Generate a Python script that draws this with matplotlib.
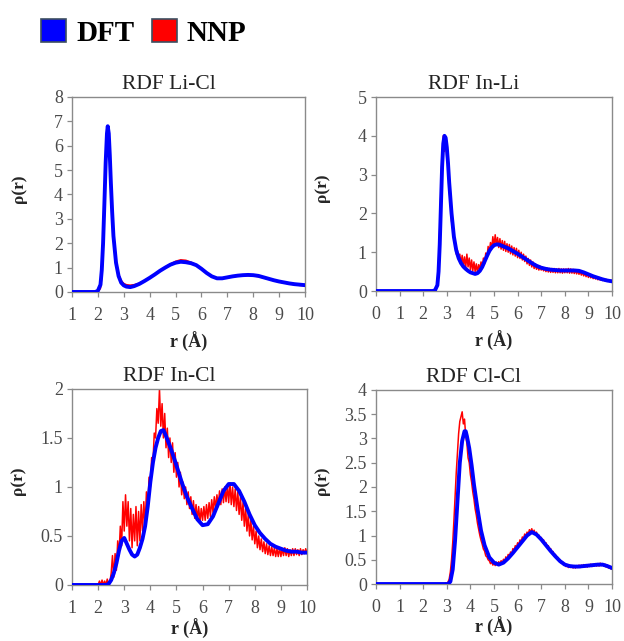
import matplotlib
matplotlib.use("Agg")
import matplotlib.pyplot as plt
import numpy as np
from matplotlib.patches import Patch
from matplotlib.ticker import FormatStrFormatter

plt.rcParams["font.family"] = ["Liberation Serif", "DejaVu Serif"]

# ---- RDF Li-Cl ----
r_licl = [1.0, 1.9, 2.0, 2.1, 2.15, 2.2, 2.25, 2.3, 2.35, 2.38, 2.42, 2.46, 2.5, 2.55, 2.6,
          2.7, 2.8, 2.9, 3.0, 3.1, 3.25, 3.4, 3.6, 3.8, 4.0, 4.2, 4.4, 4.6, 4.8, 5.0,
          5.2, 5.4, 5.6, 5.8, 6.0, 6.2, 6.4, 6.6, 6.8, 7.0, 7.2, 7.4, 7.6, 7.8, 8.0,
          8.2, 8.4, 8.6, 8.8, 9.0, 9.2, 9.4, 9.6, 9.8, 10.0]
g_licl_dft = [0, 0, 0.05, 0.3, 0.9, 2.0, 3.6, 5.3, 6.5, 6.8, 6.5, 5.6, 4.5, 3.3, 2.3,
              1.2, 0.65, 0.38, 0.27, 0.22, 0.2, 0.24, 0.33, 0.45, 0.58, 0.72, 0.87, 1.0, 1.12, 1.2,
              1.24, 1.22, 1.18, 1.1, 0.95, 0.78, 0.64, 0.56, 0.56, 0.6, 0.64, 0.67, 0.69, 0.7, 0.69,
              0.66, 0.6, 0.54, 0.48, 0.43, 0.39, 0.35, 0.32, 0.3, 0.28]
g_licl_nnp = [0, 0, 0.0, 0.15, 0.6, 1.6, 3.2, 5.0, 6.3, 6.6, 6.4, 5.6, 4.6, 3.4, 2.4,
              1.3, 0.74, 0.47, 0.35, 0.3, 0.28, 0.3, 0.36, 0.47, 0.6, 0.73, 0.88, 1.02, 1.15, 1.26,
              1.32, 1.3, 1.22, 1.12, 0.97, 0.79, 0.63, 0.55, 0.56, 0.59, 0.62, 0.65, 0.66, 0.67, 0.66,
              0.63, 0.58, 0.52, 0.46, 0.41, 0.37, 0.33, 0.3, 0.27, 0.26]

# ---- RDF In-Li ----
r_inli_dft = [0, 2.4, 2.5, 2.6, 2.65, 2.7, 2.75, 2.8, 2.85, 2.9, 2.95, 3.0, 3.05, 3.1, 3.2,
              3.3, 3.4, 3.5, 3.6, 3.7, 3.8, 3.9, 4.0, 4.1, 4.2, 4.3, 4.4, 4.5, 4.6, 4.7,
              4.8, 4.9, 5.0, 5.1, 5.2, 5.4, 5.6, 5.8, 6.0, 6.2, 6.4, 6.6, 6.8, 7.0, 7.2,
              7.4, 7.6, 7.8, 8.0, 8.2, 8.4, 8.6, 8.8, 9.0, 9.2, 9.4, 9.6, 9.8, 10.0]
g_inli_dft = [0, 0, 0.02, 0.15, 0.5, 1.2, 2.2, 3.2, 3.8, 4.0, 3.95, 3.7, 3.3, 2.8, 2.0,
              1.4, 1.05, 0.85, 0.72, 0.63, 0.57, 0.52, 0.48, 0.46, 0.44, 0.46, 0.52, 0.62, 0.76, 0.9,
              1.03, 1.12, 1.18, 1.2, 1.2, 1.15, 1.1, 1.03, 0.96, 0.88, 0.8, 0.72, 0.65, 0.6, 0.57,
              0.55, 0.54, 0.53, 0.53, 0.53, 0.53, 0.52, 0.48, 0.43, 0.38, 0.34, 0.3, 0.27, 0.25]
# NNP sampled every 0.05 A from 2.5 to 10
g_inli_nnp = [0, 0.05, 0.25, 0.7, 1.6, 2.6, 3.5, 4.0, 3.6, 3.95, 3.4, 3.3, 2.6, 2.3, 1.8,
              1.6, 1.3, 1.25, 0.95, 1.05, 0.8, 0.95, 0.7, 0.92, 0.65, 0.88, 0.6, 0.95, 0.62, 0.85,
              0.55, 0.8, 0.52, 0.75, 0.5, 0.7, 0.48, 0.68, 0.55, 0.75, 0.62,
              0.85, 0.7, 0.98, 0.85, 1.15, 0.98, 1.25, 1.08, 1.4, 1.15, 1.45, 1.18, 1.38, 1.12, 1.35,
              1.08, 1.3, 1.05, 1.28, 1.02,
              1.22, 1.0, 1.2, 0.96, 1.16, 0.93, 1.12, 0.9, 1.1, 0.86, 1.05, 0.84, 1.0, 0.8, 0.95,
              0.76, 0.9, 0.7, 0.84, 0.66, 0.8, 0.62, 0.75, 0.58, 0.7, 0.56, 0.66, 0.54, 0.64, 0.54,
              0.62, 0.52, 0.6, 0.5, 0.59, 0.49, 0.58, 0.48, 0.58, 0.48, 0.58, 0.47, 0.57, 0.47, 0.58,
              0.47, 0.57, 0.46, 0.57, 0.47, 0.57, 0.47, 0.58, 0.46, 0.57, 0.46, 0.56, 0.45, 0.55, 0.44,
              0.53, 0.43, 0.51, 0.41, 0.49, 0.39, 0.47, 0.37, 0.45, 0.35, 0.42, 0.34, 0.4, 0.32, 0.38,
              0.31, 0.36, 0.29, 0.35, 0.28, 0.33, 0.27, 0.32, 0.26, 0.3, 0.25, 0.29, 0.24, 0.28, 0.25]

# ---- RDF In-Cl ----
r_incl_dft = [1.0, 2.3, 2.4, 2.5, 2.6, 2.7, 2.8, 2.9, 3.0, 3.1, 3.2, 3.3, 3.4, 3.5, 3.6,
              3.7, 3.8, 3.9, 4.0, 4.1, 4.2, 4.3, 4.4, 4.5, 4.6, 4.7, 4.8, 5.0, 5.2, 5.4,
              5.6, 5.8, 6.0, 6.2, 6.4, 6.6, 6.8, 7.0, 7.2, 7.4, 7.6, 7.8, 8.0, 8.2, 8.4,
              8.6, 8.8, 9.0, 9.2, 9.4, 9.6, 9.8, 10.0]
g_incl_dft = [0, 0, 0.01, 0.05, 0.12, 0.22, 0.35, 0.45, 0.48, 0.42, 0.36, 0.31, 0.29, 0.31, 0.38,
              0.47, 0.6, 0.8, 1.05, 1.25, 1.4, 1.5, 1.57, 1.58, 1.52, 1.45, 1.38, 1.22, 1.05, 0.9,
              0.78, 0.67, 0.61, 0.62, 0.7, 0.83, 0.96, 1.03, 1.03, 0.96, 0.85, 0.72, 0.61, 0.53, 0.47,
              0.42, 0.39, 0.37, 0.35, 0.34, 0.34, 0.33, 0.33]
# NNP sampled every 0.05 A from 2.0 to 10
g_incl_nnp = [0, 0.04, 0.0, 0.05, 0.0, 0.04, 0.0, 0.06, 0.0, 0.03,
              0.12, 0.3, 0.08, 0.32, 0.15, 0.45, 0.3, 0.6, 0.4, 0.85,
              0.55, 0.92, 0.6, 0.85, 0.45, 0.78, 0.38, 0.72, 0.45, 0.8,
              0.4, 0.75, 0.45, 0.82, 0.55, 0.85, 0.6, 0.95, 0.75, 1.1,
              1.0, 1.3, 1.25, 1.55, 1.5, 1.8, 1.65, 2.0, 1.62, 1.85,
              1.5, 1.75, 1.4, 1.6, 1.3, 1.5, 1.25, 1.45, 1.15, 1.35,
              1.1, 1.25, 1.0, 1.15, 0.92, 1.05, 0.88, 1.0, 0.82, 0.95,
              0.78, 0.9, 0.72, 0.86, 0.68, 0.82, 0.66, 0.8, 0.64, 0.78,
              0.66, 0.8, 0.66, 0.82, 0.68, 0.84, 0.7, 0.87, 0.74, 0.9,
              0.78, 0.92, 0.8, 0.96, 0.82, 0.98, 0.84, 1.0, 0.85, 1.02,
              0.84, 1.04, 0.82, 1.0, 0.8, 0.98, 0.76, 0.95, 0.72, 0.9,
              0.66, 0.84, 0.6, 0.78, 0.55, 0.72, 0.5, 0.66, 0.46, 0.6,
              0.42, 0.55, 0.38, 0.5, 0.36, 0.47, 0.34, 0.44, 0.32, 0.42,
              0.31, 0.4, 0.3, 0.39, 0.3, 0.38, 0.29, 0.37, 0.29, 0.38,
              0.29, 0.37, 0.3, 0.38, 0.3, 0.37, 0.29, 0.36, 0.3, 0.37,
              0.3, 0.37, 0.31, 0.36, 0.3, 0.37, 0.31, 0.36, 0.32, 0.37,
              0.33]

# ---- RDF Cl-Cl ----
r_clcl_dft = [0, 3.05, 3.15, 3.25, 3.35, 3.45, 3.55, 3.65, 3.75, 3.8, 3.85, 3.95, 4.05, 4.15, 4.3,
              4.45, 4.6, 4.8, 5.0, 5.2, 5.4, 5.6, 5.8, 6.0, 6.2, 6.4, 6.6, 6.8, 7.0, 7.2,
              7.4, 7.6, 7.8, 8.0, 8.2, 8.4, 8.6, 8.8, 9.0, 9.2, 9.4, 9.6, 9.8, 10.0]
g_clcl_dft = [0, 0, 0.05, 0.3, 0.9, 1.7, 2.5, 2.95, 3.15, 3.15, 3.05, 2.8, 2.45, 2.05, 1.55,
              1.1, 0.8, 0.55, 0.44, 0.4, 0.44, 0.53, 0.64, 0.76, 0.88, 1.0, 1.07, 1.02, 0.92, 0.8,
              0.68, 0.57, 0.47, 0.4, 0.37, 0.36, 0.36, 0.37, 0.38, 0.39, 0.4, 0.4, 0.37, 0.33]
# NNP sampled every 0.05 A from 2.9 to 10
g_clcl_nnp = [0, 0.02, 0.0, 0.04, 0.1, 0.25, 0.5, 0.85, 1.3, 1.8,
              2.3, 2.7, 3.1, 3.35, 3.45, 3.55, 3.3, 3.4, 3.05, 2.9,
              2.6, 2.5, 2.25, 2.1, 1.9, 1.75, 1.55, 1.42, 1.25, 1.12,
              1.0, 0.9, 0.82, 0.72, 0.68, 0.58, 0.56, 0.5, 0.48, 0.42,
              0.46, 0.39, 0.44, 0.38, 0.45, 0.39, 0.46, 0.41, 0.48, 0.43,
              0.51, 0.46, 0.56, 0.51, 0.61, 0.57, 0.66, 0.62, 0.73, 0.69,
              0.79, 0.75, 0.85, 0.81, 0.91, 0.87, 0.97, 0.93, 1.03, 0.99,
              1.07, 1.03, 1.12, 1.07, 1.14, 1.05, 1.11, 1.02, 1.07, 0.97,
              1.01, 0.92, 0.96, 0.87, 0.91, 0.81, 0.85, 0.76, 0.79, 0.7,
              0.73, 0.64, 0.67, 0.58, 0.61, 0.53, 0.55, 0.48, 0.5, 0.43,
              0.46, 0.39, 0.42, 0.36, 0.4, 0.34, 0.39, 0.34, 0.38, 0.33,
              0.38, 0.33, 0.38, 0.34, 0.39, 0.34, 0.39, 0.35, 0.4, 0.35,
              0.4, 0.35, 0.4, 0.36, 0.41, 0.36, 0.41, 0.37, 0.42, 0.37,
              0.42, 0.37, 0.43, 0.38, 0.42, 0.37, 0.41, 0.35, 0.39, 0.33,
              0.37, 0.31, 0.34]


def nnp_grid(xmin, start, values):
    # leading zero segment plus the evenly sampled part
    r = np.r_[xmin, np.linspace(start, 10.0, len(values))]
    g = np.r_[0.0, values]
    return r, g


panels = [
    dict(title="RDF Li-Cl", pos=[0.1154, 0.5445, 0.3734, 0.3042], xlim=(1, 10), ylim=(0, 8),
         yticks=np.arange(0, 8.1, 1), xlab_y=-0.205,
         dft=(r_licl, g_licl_dft), nnp=(r_licl, g_licl_nnp)),
    dict(title="RDF In-Li", pos=[0.6026, 0.5460, 0.3782, 0.3026], xlim=(0, 10), ylim=(0, 5),
         yticks=np.arange(0, 5.1, 1), xlab_y=-0.205,
         dft=(r_inli_dft, g_inli_dft), nnp=nnp_grid(0, 2.5, g_inli_nnp)),
    dict(title="RDF In-Cl", pos=[0.1154, 0.0874, 0.3766, 0.3058], xlim=(1, 10), ylim=(0, 2),
         yticks=np.arange(0, 2.01, 0.5), xlab_y=-0.172,
         dft=(r_incl_dft, g_incl_dft), nnp=nnp_grid(1, 2.0, g_incl_nnp)),
    dict(title="RDF Cl-Cl", pos=[0.6026, 0.0889, 0.3782, 0.3027], xlim=(0, 10), ylim=(0, 4),
         yticks=np.arange(0, 4.01, 0.5), xlab_y=-0.172,
         dft=(r_clcl_dft, g_clcl_dft), nnp=nnp_grid(0, 2.9, g_clcl_nnp)),
]

fig = plt.figure(figsize=(6.24, 6.41), dpi=100)

for p in panels:
    ax = fig.add_axes(p["pos"])
    ax.plot(*p["nnp"], color="#ff0000", lw=1.1, zorder=2)
    ax.plot(*p["dft"], color="#0000ff", lw=2.8, zorder=3, solid_joinstyle="round")
    ax.set_xlim(*p["xlim"])
    ax.set_ylim(*p["ylim"])
    ax.set_xticks(np.arange(p["xlim"][0], 10.1, 1))
    ax.set_yticks(p["yticks"])
    ax.yaxis.set_major_formatter(FormatStrFormatter("%g"))
    ax.set_title(p["title"], fontsize=15.5, pad=6, color="#222222", x=0.415)
    ax.set_xlabel("r (Å)", fontsize=13, fontweight="bold", color="#262626")
    ax.set_ylabel("ρ(r)", fontsize=12.5, fontweight="bold", color="#262626")
    ax.xaxis.set_label_coords(0.5, p["xlab_y"])
    ax.yaxis.set_label_coords(-0.195, 0.53)
    for s in ax.spines.values():
        s.set_color("#8a8a8a")
        s.set_linewidth(1.0)
    ax.tick_params(axis="both", direction="out", length=3.5, width=0.9,
                   color="#8a8a8a", labelsize=13, labelcolor="#4a4a4a")
    ax.tick_params(axis="x", pad=7)
    ax.tick_params(axis="y", pad=3)

handles = [Patch(facecolor="#0000ff", edgecolor="#3d4f60", lw=1.2),
           Patch(facecolor="#ff0000", edgecolor="#3d4f60", lw=1.2)]
fig.legend(handles, ["DFT", "NNP"], loc="upper left", bbox_to_anchor=(0.024, 1.011),
           ncol=2, frameon=False, prop=dict(family="Liberation Serif", weight="bold", size=21),
           handlelength=0.85, handleheight=0.85, handletextpad=0.35, columnspacing=0.6)

fig.savefig("out.png", dpi=100)
